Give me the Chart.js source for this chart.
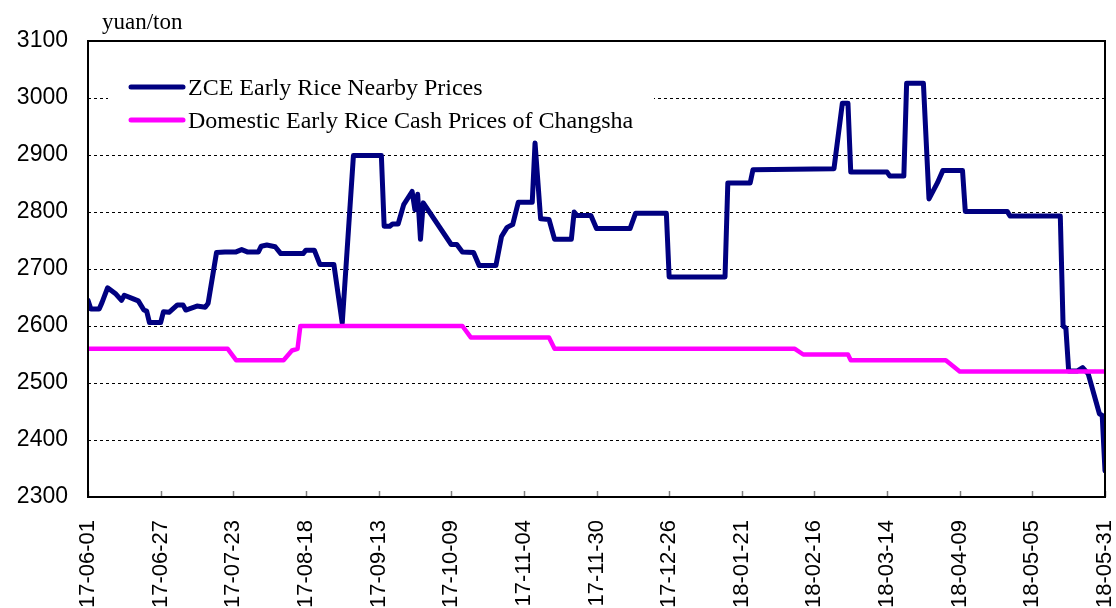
<!DOCTYPE html>
<html>
<head>
<meta charset="utf-8">
<title>ZCE early rice vs Changsha cash price</title>
<script src="https://cdn.jsdelivr.net/npm/chart.js@4.4.1/dist/chart.umd.min.js"></script>
<style>
  html, body { margin: 0; padding: 0; background: #fff; }
</style>
</head>
<body>
<canvas id="rice_chart" width="1116" height="608"></canvas>
<script>
'use strict'

// x axis labels, one every 26 days
const tickLabels = ['17-06-01', '17-06-27', '17-07-23', '17-08-18', '17-09-13', '17-10-09', '17-11-04',
    '17-11-30', '17-12-26', '18-01-21', '18-02-16', '18-03-14', '18-04-09', '18-05-05', '18-05-31'];

const seriesNames = ['ZCE Early Rice Nearby Prices', 'Domestic Early Rice Cash Prices of Changsha'];
const unitLabel = 'yuan/ton';

// ZCE early rice nearby futures
const zceDates = ['17-06-01', '17-06-02', '17-06-05', '17-06-06', '17-06-08', '17-06-11', '17-06-13', '17-06-14',
    '17-06-17', '17-06-19', '17-06-21', '17-06-22', '17-06-23', '17-06-27', '17-06-28', '17-06-30', '17-07-03',
    '17-07-05', '17-07-06', '17-07-10', '17-07-13', '17-07-14', '17-07-17', '17-07-20', '17-07-24', '17-07-26',
    '17-07-28', '17-08-01', '17-08-02', '17-08-04', '17-08-07', '17-08-09', '17-08-17', '17-08-18', '17-08-21',
    '17-08-23', '17-08-28', '17-08-31', '17-09-04', '17-09-14', '17-09-15', '17-09-17', '17-09-18', '17-09-20',
    '17-09-22', '17-09-25', '17-09-26', '17-09-27', '17-09-28', '17-09-29', '17-10-09', '17-10-11', '17-10-13',
    '17-10-17', '17-10-19', '17-10-25', '17-10-27', '17-10-29', '17-10-31', '17-11-02', '17-11-07', '17-11-08',
    '17-11-10', '17-11-13', '17-11-15', '17-11-21', '17-11-22', '17-11-23', '17-11-28', '17-11-30', '17-12-12',
    '17-12-14', '17-12-25', '17-12-26', '18-01-15', '18-01-16', '18-01-24', '18-01-25', '18-02-23', '18-02-26',
    '18-02-28', '18-03-01', '18-03-14', '18-03-15', '18-03-20', '18-03-21', '18-03-27', '18-03-29', '18-04-01',
    '18-04-03', '18-04-10', '18-04-11', '18-04-26', '18-04-27', '18-05-15', '18-05-16', '18-05-17', '18-05-18',
    '18-05-21', '18-05-23', '18-05-25', '18-05-29', '18-05-30', '18-05-31'];
const zcePrices = [2645, 2630, 2630, 2641, 2667, 2656, 2645, 2654,
    2648, 2644, 2628, 2626, 2606, 2606, 2625, 2624, 2637,
    2637, 2628, 2635, 2633, 2640, 2729, 2730, 2730, 2734,
    2730, 2730, 2740, 2742, 2739, 2727, 2727, 2733, 2733,
    2708, 2708, 2605, 2899, 2899, 2775, 2775, 2779, 2779,
    2813, 2836, 2804, 2831, 2752, 2816, 2743, 2743, 2730,
    2729, 2706, 2706, 2757, 2773, 2778, 2817, 2817, 2921,
    2788, 2787, 2752, 2752, 2800, 2794, 2794, 2771, 2771,
    2798, 2798, 2686, 2686, 2851, 2851, 2874, 2876, 2991,
    2991, 2870, 2870, 2863, 2863, 3026, 3026, 2823, 2851,
    2873, 2873, 2801, 2801, 2793, 2793, 2600, 2596, 2521,
    2521, 2527, 2516, 2446, 2443, 2346];

// Changsha early rice cash price
const cashDates = ['17-06-01', '17-07-21', '17-07-24', '17-08-10', '17-08-13', '17-08-15', '17-08-16', '17-10-13',
    '17-10-16', '17-11-13', '17-11-15', '18-02-09', '18-02-12', '18-02-28', '18-03-01', '18-04-04', '18-04-09',
    '18-05-31'];
const cashPrices = [2560, 2560, 2540, 2540, 2557, 2560, 2600, 2600,
    2580, 2580, 2560, 2560, 2550, 2550, 2540, 2540, 2520,
    2520];

// days since 17-06-01
const dayIndex = (d) => {
    const [yy, mm, dd] = d.split('-').map(Number);
    return Math.round((Date.UTC(2000 + yy, mm - 1, dd) - Date.UTC(2017, 5, 1)) / 86400000);
};
const toPoints = (dates, vals) => dates.map((d, i) => ({x: dayIndex(d), y: vals[i]}));

const sans = 'Liberation Sans, Arial, sans-serif';
const serif = 'Liberation Serif, Times New Roman, serif';

const framePlugin = {
    id: 'frame',
    afterDatasetsDraw(chart) {
        const {ctx} = chart;
        // legend box, sits inside the plot
        ctx.save();
        ctx.fillStyle = '#fff';
        ctx.fillRect(108, 62, 546, 78);
        const colors = ['#000080', '#ff00ff'];
        seriesNames.forEach((name, i) => {
            const y = 87 + i * 33;
            ctx.strokeStyle = colors[i];
            ctx.lineWidth = 5;
            ctx.lineCap = 'round';
            ctx.beginPath();
            ctx.moveTo(131, y);
            ctx.lineTo(183, y);
            ctx.stroke();
            ctx.fillStyle = '#000';
            ctx.font = '24px ' + serif;
            ctx.textBaseline = 'alphabetic';
            ctx.fillText(name, 188, y + 8);
        });
        ctx.restore();
    },
    afterDraw(chart) {
        const {ctx, chartArea: a, scales} = chart;
        ctx.save();
        // small inner tick marks on x axis
        ctx.strokeStyle = '#808080';
        ctx.lineWidth = 1.5;
        scales.x.ticks.forEach(t => {
            const x = Math.round(scales.x.getPixelForValue(t.value)) + 0.5;
            ctx.beginPath();
            ctx.moveTo(x, a.bottom);
            ctx.lineTo(x, a.bottom - 6);
            ctx.stroke();
        });
        ctx.strokeStyle = '#000';
        ctx.lineWidth = 2;
        ctx.strokeRect(a.left, a.top, a.right - a.left, a.bottom - a.top);
        ctx.fillStyle = '#000';
        ctx.font = '23px ' + serif;
        ctx.textBaseline = 'alphabetic';
        ctx.fillText(unitLabel, 102, 29);
        ctx.restore();
    }
};

window.onload = () => {
    const ctx = document.getElementById('rice_chart').getContext('2d');
    const chart = new Chart(ctx, {
        type: 'line',
        data: {
            datasets: [{
                label: seriesNames[0],
                data: toPoints(zceDates, zcePrices),
                borderColor: '#000080',
                borderWidth: 5,
                order: 2
            }, {
                label: seriesNames[1],
                data: toPoints(cashDates, cashPrices),
                borderColor: '#ff00ff',
                borderWidth: 4.5,
                order: 1
            }]
        },
        options: {
            responsive: false,
            animation: false,
            devicePixelRatio: 1,
            layout: {padding: {top: 41, right: 11, left: 0, bottom: 0}},
            elements: {
                point: {radius: 0},
                line: {tension: 0, fill: false, borderJoinStyle: 'round', borderCapStyle: 'round'}
            },
            plugins: {legend: {display: false}, tooltip: {enabled: false}},
            scales: {
                x: {
                    type: 'linear',
                    min: 0,
                    max: 364,
                    afterFit: (s) => {
                        s.height = 111;
                        s.paddingLeft = 0;
                        s.paddingRight = 0;
                    },
                    grid: {display: false},
                    border: {display: false},
                    ticks: {
                        stepSize: 26,
                        autoSkip: false,
                        minRotation: 90,
                        maxRotation: 90,
                        padding: 15,
                        color: '#000',
                        font: {family: sans, size: 22},
                        callback: (v) => tickLabels[Math.round(v / 26)]
                    }
                },
                y: {
                    min: 2300,
                    max: 3100,
                    afterFit: (s) => { s.width = 88; },
                    grid: {color: '#000', lineWidth: 1, drawTicks: false},
                    border: {display: false, dash: [3, 3]},
                    ticks: {
                        stepSize: 100,
                        padding: 20,
                        color: '#000',
                        font: {family: sans, size: 23},
                        callback: (v) => String(v)
                    }
                }
            }
        },
        plugins: [framePlugin]
    });
};
</script>
</body>
</html>
